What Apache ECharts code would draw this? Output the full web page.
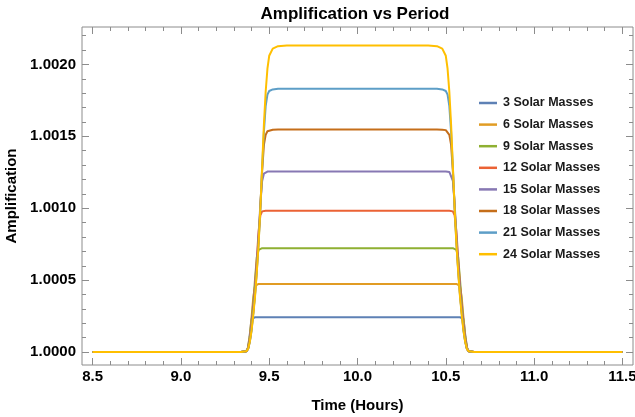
<!DOCTYPE html>
<html>
<head>
<meta charset="utf-8">
<script src="https://cdn.jsdelivr.net/npm/echarts@6/dist/echarts.min.js"></script>
<style>
  html, body { margin: 0; padding: 0; background: #fff; }
  #chart { width: 635px; height: 417px; }
</style>
</head>
<body>
<div id="chart"></div>
<script>
// time in hours
var times = [8.5, 9.34, 9.37, 9.38, 9.39, 9.40, 9.41, 9.42, 9.43, 9.44, 9.45, 9.46, 9.47, 9.48, 9.49, 9.50, 9.52, 9.55, 9.60, 9.70,
  10.0,
  10.30, 10.40, 10.45, 10.48, 10.50, 10.51, 10.52, 10.53, 10.54, 10.55, 10.56, 10.57, 10.58, 10.59, 10.60, 10.61, 10.62, 10.63, 10.66, 11.5];

// amplification - 1, in units of 1e-4
var m3 = [0, 0, 0.05, 0.3, 1.2, 2.3, 2.40, 2.42, 2.42, 2.42, 2.42, 2.42, 2.42, 2.42, 2.42, 2.42, 2.42, 2.42, 2.42, 2.42,
  2.42,
  2.42, 2.42, 2.42, 2.42, 2.42, 2.42, 2.42, 2.42, 2.42, 2.42, 2.42, 2.42, 2.42, 2.40, 2.3, 1.2, 0.3, 0.05, 0, 0];
var m6 = [0, 0, 0.05, 0.3, 1.1, 2.4, 3.8, 4.6, 4.72, 4.74, 4.74, 4.74, 4.74, 4.74, 4.74, 4.74, 4.74, 4.74, 4.74, 4.74,
  4.74,
  4.74, 4.74, 4.74, 4.74, 4.74, 4.74, 4.74, 4.74, 4.74, 4.74, 4.74, 4.72, 4.6, 3.8, 2.4, 1.1, 0.3, 0.05, 0, 0];
var m9 = [0, 0, 0.05, 0.25, 1.0, 2.1, 3.5, 5.1, 6.6, 7.1, 7.2, 7.22, 7.22, 7.22, 7.22, 7.22, 7.22, 7.22, 7.22, 7.22,
  7.22,
  7.22, 7.22, 7.22, 7.22, 7.22, 7.22, 7.22, 7.22, 7.22, 7.2, 7.1, 6.6, 5.1, 3.5, 2.1, 1.0, 0.25, 0.05, 0, 0];
var m12 = [0, 0, 0.05, 0.25, 0.9, 1.9, 3.2, 4.7, 6.5, 8.4, 9.5, 9.78, 9.82, 9.83, 9.83, 9.83, 9.83, 9.83, 9.83, 9.83,
  9.83,
  9.83, 9.83, 9.83, 9.83, 9.83, 9.83, 9.83, 9.82, 9.78, 9.5, 8.4, 6.5, 4.7, 3.2, 1.9, 0.9, 0.25, 0.05, 0, 0];
var m15 = [0, 0, 0.05, 0.22, 0.8, 1.8, 3.0, 4.4, 6.1, 8.1, 10.3, 11.9, 12.4, 12.52, 12.55, 12.56, 12.56, 12.56, 12.56, 12.56,
  12.56,
  12.56, 12.56, 12.56, 12.56, 12.56, 12.55, 12.52, 12.4, 11.9, 10.3, 8.1, 6.1, 4.4, 3.0, 1.8, 0.8, 0.22, 0.05, 0, 0];
var m18 = [0, 0, 0.05, 0.2, 0.75, 1.6, 2.8, 4.1, 5.8, 7.8, 10.1, 12.6, 14.4, 15.1, 15.35, 15.43, 15.46, 15.47, 15.47, 15.47,
  15.47,
  15.47, 15.47, 15.47, 15.46, 15.43, 15.35, 15.1, 14.4, 12.6, 10.1, 7.8, 5.8, 4.1, 2.8, 1.6, 0.75, 0.2, 0.05, 0, 0];
var m21 = [0, 0, 0.05, 0.2, 0.7, 1.5, 2.7, 4.0, 5.7, 7.6, 10.0, 12.8, 15.3, 17.1, 17.9, 18.15, 18.26, 18.30, 18.31, 18.31,
  18.31,
  18.31, 18.31, 18.30, 18.26, 18.15, 17.9, 17.1, 15.3, 12.8, 10.0, 7.6, 5.7, 4.0, 2.7, 1.5, 0.7, 0.2, 0.05, 0, 0];
var m24 = [0, 0, 0.05, 0.2, 0.7, 1.5, 2.6, 3.9, 5.6, 7.5, 10.0, 12.9, 15.8, 18.1, 19.7, 20.6, 21.1, 21.27, 21.31, 21.32,
  21.32,
  21.32, 21.31, 21.27, 21.1, 20.6, 19.7, 18.1, 15.8, 12.9, 10.0, 7.5, 5.6, 3.9, 2.6, 1.5, 0.7, 0.2, 0.05, 0, 0];

var names = ['3 Solar Masses', '6 Solar Masses', '9 Solar Masses', '12 Solar Masses',
  '15 Solar Masses', '18 Solar Masses', '21 Solar Masses', '24 Solar Masses'];
var values = [m3, m6, m9, m12, m15, m18, m21, m24];
var colors = ['#5E81B5', '#E19C24', '#8FB032', '#EB6235', '#8778B3', '#C56E1A', '#5D9EC7', '#FFBF00'];

// tick positions
var xMajor = [8.5, 9.0, 9.5, 10.0, 10.5, 11.0, 11.5];
var xMinor = [8.5, 8.6, 8.7, 8.8, 8.9, 9.0, 9.1, 9.2, 9.3, 9.4, 9.5, 9.6, 9.7, 9.8, 9.9, 10.0,
  10.1, 10.2, 10.3, 10.4, 10.5, 10.6, 10.7, 10.8, 10.9, 11.0, 11.1, 11.2, 11.3, 11.4, 11.5];
var yMajor = [1.0000, 1.0005, 1.0010, 1.0015, 1.0020];
var yMinor = [1.0000, 1.0001, 1.0002, 1.0003, 1.0004, 1.0005, 1.0006, 1.0007, 1.0008, 1.0009, 1.0010,
  1.0011, 1.0012, 1.0013, 1.0014, 1.0015, 1.0016, 1.0017, 1.0018, 1.0019, 1.0020, 1.0021, 1.0022];

var font = 'Liberation Sans, Arial, sans-serif';
var frameColor = '#8c8c8c';
var xMin = 8.44, xMax = 11.56;
var yMin = 0.99991, yMax = 1.00226;

function tickAxis(pos, ticks, len, labels, extra) {
  var ax = {
    type: 'value',
    position: pos,
    axisLine: { show: false },
    splitLine: { show: false },
    axisTick: {
      show: true, inside: true, length: len,
      customValues: ticks,
      lineStyle: { color: frameColor, width: 1 }
    },
    axisLabel: { show: false }
  };
  if (pos === 'bottom' || pos === 'top') {
    ax.min = xMin; ax.max = xMax;
  } else {
    ax.min = yMin; ax.max = yMax;
  }
  if (labels) {
    ax.axisLabel = labels;
  }
  for (var k in extra) ax[k] = extra[k];
  return ax;
}

var chart = echarts.init(document.getElementById('chart'));

var series = names.map(function (n, i) {
  return {
    name: n,
    type: 'line',
    xAxisIndex: 0,
    yAxisIndex: 0,
    showSymbol: false,
    symbol: 'none',
    color: colors[i],
    lineStyle: { width: 2, color: colors[i] },
    animation: false,
    data: values[i].map(function (v, j) { return [times[j], 1 + v / 10000]; })
  };
});

chart.setOption({
  animation: false,
  backgroundColor: '#fff',
  title: {
    text: 'Amplification vs Period',
    left: 355,
    top: 6,
    textAlign: 'center',
    padding: 0,
    textStyle: { fontFamily: font, fontSize: 17, fontWeight: 'bold', color: '#000' }
  },
  grid: {
    left: 82, right: 2, top: 27, bottom: 52,
    outerBoundsMode: 'none',
    containLabel: false,
    show: true, borderColor: frameColor, borderWidth: 1, backgroundColor: 'transparent'
  },
  legend: {
    orient: 'vertical',
    left: 474,
    top: 91,
    icon: 'rect',
    itemWidth: 18,
    itemHeight: 2.5,
    itemGap: 7.6,
    data: names,
    textStyle: { fontFamily: font, fontSize: 12.5, fontWeight: 'bold', color: '#1a1a1a', lineHeight: 14, padding: [0, 0, 0, 1] }
  },
  xAxis: [
    tickAxis('bottom', xMajor, 7, {
      show: true, margin: 4,
      customValues: xMajor,
      formatter: function (v) { return v.toFixed(1); },
      fontFamily: font, fontSize: 15, fontWeight: 'bold', color: '#000'
    }, {
      name: 'Time (Hours)', nameLocation: 'middle', nameGap: 33,
      nameTextStyle: { fontFamily: font, fontSize: 15, fontWeight: 'bold', color: '#000' }
    }),
    tickAxis('bottom', xMinor, 4),
    tickAxis('top', xMajor, 7),
    tickAxis('top', xMinor, 4)
  ],
  yAxis: [
    tickAxis('left', yMajor, 7, {
      show: true, margin: 6,
      customValues: yMajor,
      formatter: function (v) { return v.toFixed(4); },
      fontFamily: font, fontSize: 15, fontWeight: 'bold', color: '#000'
    }, {
      name: 'Amplification', nameLocation: 'middle', nameGap: 57, nameRotate: 90,
      nameTextStyle: { fontFamily: font, fontSize: 15, fontWeight: 'bold', color: '#000' }
    }),
    tickAxis('left', yMinor, 4),
    tickAxis('right', yMajor, 7),
    tickAxis('right', yMinor, 4)
  ],
  series: series
});
</script>
</body>
</html>
